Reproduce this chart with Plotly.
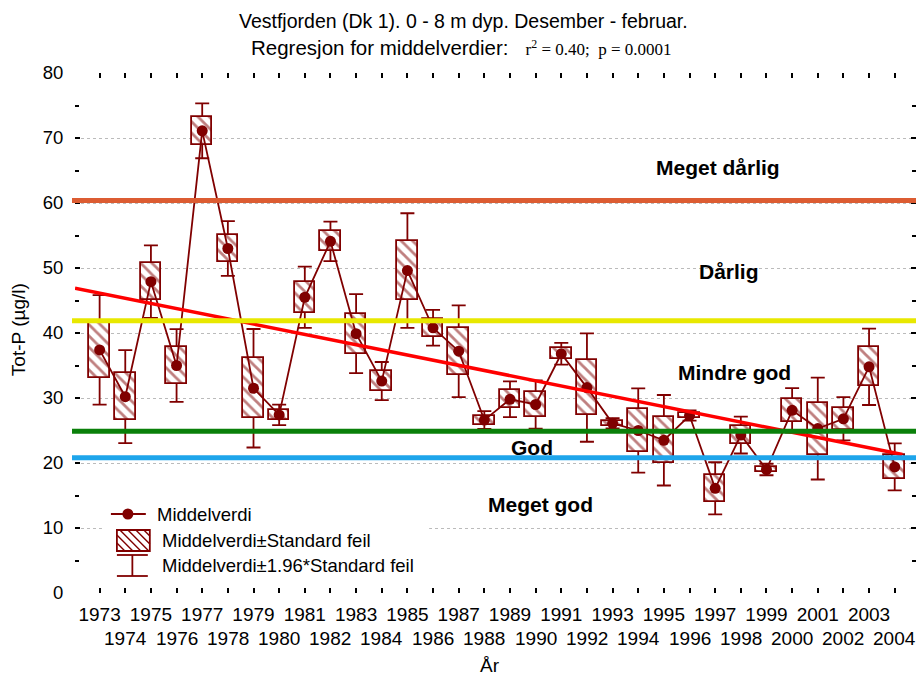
import numpy as np
import plotly.graph_objects as go

# ---------------- data ----------------
years = list(range(1973, 2005))
mean_values = [37.4, 30.2, 47.9, 35.0, 71.1, 53.0, 31.5, 27.4, 45.5, 54.1,
               39.9, 32.6, 49.6, 40.8, 37.2, 26.6, 29.8, 29.0, 36.8, 31.6,
               26.1, 25.0, 23.5, 27.3, 16.1, 24.3, 19.0, 28.1, 25.3, 26.8,
               34.8, 19.4]
std_errors = [4.3, 3.65, 2.85, 2.85, 2.15, 2.15, 4.65, 0.8, 2.4, 1.55,
              3.1, 1.5, 4.5, 1.4, 3.6, 0.7, 1.4, 1.9, 0.85, 4.25,
              0.4, 3.3, 3.55, 0.4, 2.05, 1.45, 0.45, 1.75, 4.0, 1.7,
              3.0, 1.85]
class_limits = [60.4, 41.9, 24.9, 20.8]
class_names = ["Meget dårlig", "Dårlig", "Mindre god", "God", "Meget god"]
odd_years = [y for y in years if y % 2 == 1]
odd_labels = [str(y) for y in odd_years]
even_years = [y for y in years if y % 2 == 0]
even_labels = [str(y) for y in even_years]
legend_names = ["Middelverdi", "Middelverdi±Standard feil",
                "Middelverdi±1.96*Standard feil"]

# ---------------- style / layout ----------------
W, H = 920, 684
L, R, T, B = 75, 918, 73, 593
X_MIN, X_MAX = 1972.04, 2004.83
REG_END = 2004.3
DARK = "#800000"
class_colors = ["#DC5C32", "#E8E800", "#0A800A", "#1EA5EB"]
FONT = "Liberation Sans, Arial, sans-serif"
SERIF = "Liberation Serif, Times New Roman, serif"
label_pos = [(1997.1, 65.5), (1997.55, 49.4), (1997.75, 34.0),
             (1989.85, 22.4), (1990.2, 13.6)]


def px(xp):
    return (xp - L) / (R - L)


def py(yp):
    return (B - yp) / (B - T)


fig = go.Figure()

# whiskers (mean ± 1.96 SE)
fig.add_trace(go.Scatter(
    x=years, y=mean_values, mode="markers",
    marker=dict(size=1, color="rgba(0,0,0,0)"),
    error_y=dict(type="data", array=[1.96 * s for s in std_errors],
                 color=DARK, thickness=1.8, width=7),
    showlegend=False, hoverinfo="skip", zorder=0))

# boxes (mean ± SE), hatched
fig.add_trace(go.Bar(
    x=years, y=[2 * s for s in std_errors],
    base=[m - s for m, s in zip(mean_values, std_errors)],
    width=0.8,
    marker=dict(color="white", line=dict(color=DARK, width=1.8),
                pattern=dict(shape="\\", fgcolor=DARK, bgcolor="white",
                             size=8, solidity=0.35)),
    showlegend=False, zorder=1))

# means
fig.add_trace(go.Scatter(
    x=years, y=mean_values, mode="lines+markers",
    line=dict(color=DARK, width=1.8),
    marker=dict(size=11, color=DARK),
    showlegend=False, zorder=2))

# regression of the means
slope, intercept = np.polyfit(years, mean_values, 1)
reg_x = [X_MIN, REG_END]
fig.add_trace(go.Scatter(
    x=reg_x, y=[slope * x + intercept for x in reg_x], mode="lines",
    line=dict(color="#FF0000", width=3.5), showlegend=False, zorder=3))

shapes = []
for v, c in zip(class_limits, class_colors):
    shapes.append(dict(type="line", xref="paper", yref="y", x0=px(72), x1=1,
                       y0=v, y1=v, line=dict(color=c, width=5), layer="above"))

# custom legend
shapes.append(dict(type="rect", xref="paper", yref="paper",
                   x0=px(102), x1=px(430), y0=py(580), y1=py(503),
                   fillcolor="white", line=dict(width=0), layer="above"))
shapes.append(dict(type="line", xref="paper", yref="paper",
                   x0=px(111), x1=px(146), y0=py(514), y1=py(514),
                   line=dict(color=DARK, width=1.8), layer="above"))
shapes.append(dict(type="circle", xref="paper", yref="paper",
                   x0=px(122.5), x1=px(133.5), y0=py(519.5), y1=py(508.5),
                   fillcolor=DARK, line=dict(color=DARK, width=0), layer="above"))
# hatched rect
rx0, rx1, ry0, ry1 = 117, 150, 530, 551
path = ""
for c in range(int(rx0 - (ry1 - ry0)), rx1, 8):
    xs = max(rx0, c)
    xe = min(rx1, c + (ry1 - ry0))
    if xe <= xs:
        continue
    ys = ry0 + (xs - c)
    ye = ry0 + (xe - c)
    path += f"M{px(xs)},{py(ys)} L{px(xe)},{py(ye)} "
shapes.append(dict(type="path", xref="paper", yref="paper", path=path,
                   line=dict(color=DARK, width=1.4), layer="above"))
shapes.append(dict(type="rect", xref="paper", yref="paper",
                   x0=px(rx0), x1=px(rx1), y0=py(ry1), y1=py(ry0),
                   line=dict(color=DARK, width=1.8), layer="above"))
# whisker symbol
for yy in (555, 576):
    shapes.append(dict(type="line", xref="paper", yref="paper",
                       x0=px(117), x1=px(148), y0=py(yy), y1=py(yy),
                       line=dict(color=DARK, width=1.8), layer="above"))
shapes.append(dict(type="line", xref="paper", yref="paper",
                   x0=px(132.5), x1=px(132.5), y0=py(555), y1=py(576),
                   line=dict(color=DARK, width=1.8), layer="above"))

annotations = []
for name, yy, xx in zip(legend_names, (514, 540, 565), (155, 160, 160)):
    annotations.append(dict(text=name, xref="paper", yref="paper",
                            x=px(xx), y=py(yy), xanchor="left", yanchor="middle",
                            showarrow=False,
                            font=dict(size=18.5, color="black", family=FONT)))

for name, (lx, ly) in zip(class_names, label_pos):
    annotations.append(dict(text=f"<b>{name}</b>", x=lx, y=ly, xref="x", yref="y",
                            xanchor="center", yanchor="middle", showarrow=False,
                            font=dict(size=21, color="black", family=FONT)))

for yv, lab in zip(even_years, even_labels):
    annotations.append(dict(text=lab, x=yv, y=py(638), xref="x", yref="paper",
                            xanchor="center", yanchor="middle", showarrow=False,
                            font=dict(size=19, color="black", family=FONT)))

annotations.append(dict(text="Tot-P (µg/l)", textangle=-90, xref="paper", yref="paper",
                        x=px(18), y=py(330), xanchor="center", yanchor="middle",
                        showarrow=False, font=dict(size=19, color="black", family=FONT)))
annotations.append(dict(text="År", xref="paper", yref="paper",
                        x=px(491), y=py(665), xanchor="center", yanchor="middle",
                        showarrow=False, font=dict(size=19, color="black", family=FONT)))
annotations.append(dict(text="Vestfjorden (Dk 1). 0 - 8 m dyp. Desember - februar.",
                        xref="paper", yref="paper", x=px(464), y=py(21),
                        xanchor="center", yanchor="middle",
                        showarrow=False, font=dict(size=19.5, color="black", family=FONT)))
annotations.append(dict(
    text="Regresjon for middelverdier:   "
         f"<span style='font-family:{SERIF}; font-size:17px'>"
         "r<sup>2</sup> = 0.40;  p = 0.0001</span>",
    xref="paper", yref="paper", x=px(462), y=py(48),
    xanchor="center", yanchor="middle",
    showarrow=False, font=dict(size=20.5, color="black", family=FONT)))

fig.update_layout(
    width=W, height=H,
    margin=dict(l=L, r=W - R, t=T, b=H - B),
    paper_bgcolor="white", plot_bgcolor="white",
    showlegend=False,
    font=dict(family=FONT, size=18, color="black"),
    shapes=shapes, annotations=annotations,
    bargap=0,
    xaxis=dict(range=[X_MIN, X_MAX], tickmode="array", tickvals=odd_years,
               ticktext=odd_labels, ticks="inside", ticklen=5, tickwidth=1.5,
               tickcolor="black", showline=True, linecolor="black", linewidth=2,
               mirror="ticks", showgrid=False, zeroline=False, ticklabelstandoff=3,
               minor=dict(tickmode="array", tickvals=even_years, ticks="inside",
                          ticklen=5, tickwidth=1.5, tickcolor="black", showgrid=False),
               tickfont=dict(size=19, family=FONT, color="black")),
    yaxis=dict(range=[0, 80], tick0=0, dtick=10, ticks="inside", ticklen=5,
               tickwidth=1.5, tickcolor="black", showline=True, linecolor="black",
               linewidth=2, mirror="ticks", showgrid=True, gridcolor="#BBBBBB",
               griddash="dot", gridwidth=1, zeroline=False, ticklabelstandoff=6,
               minor=dict(dtick=5, ticks="inside", ticklen=4, tickcolor="black",
                          showgrid=False),
               tickfont=dict(size=18.5, family=FONT, color="black")),
)

fig.write_html("out.html", config={"displayModeBar": False},
               post_script="document.body.style.margin='0px';")
